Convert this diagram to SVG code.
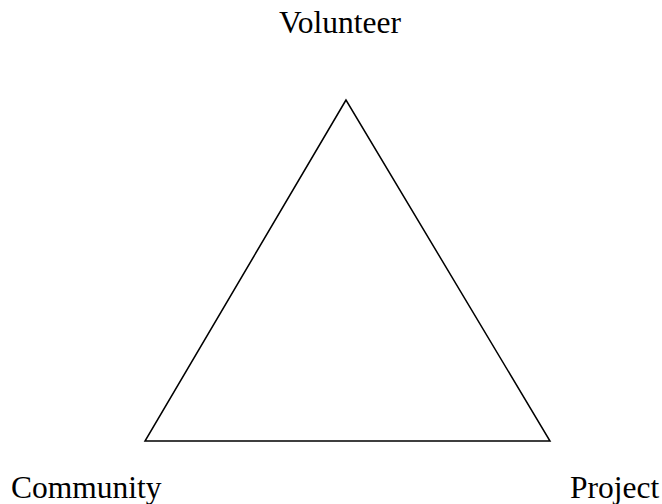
<svg xmlns="http://www.w3.org/2000/svg" width="662" height="504" viewBox="0 0 662 504">
  <style>
    .label { font-family: "Liberation Serif", "Times New Roman", serif; font-size: 31.5px; fill: #000; }
    .edge { fill: none; stroke: #000; stroke-width: 1.5; stroke-linejoin: miter; }
  </style>
  <rect width="662" height="504" fill="#fff"/>
  <g id="connectors">
    <polygon class="edge" points="346,100 145,441 550,441"/>
  </g>
  <g id="volunteer">
    <text class="label" x="279" y="33">Volunteer</text>
  </g>
  <g id="community">
    <text class="label" x="11" y="498">Community</text>
  </g>
  <g id="project">
    <text class="label" x="570" y="498">Project</text>
  </g>
</svg>
